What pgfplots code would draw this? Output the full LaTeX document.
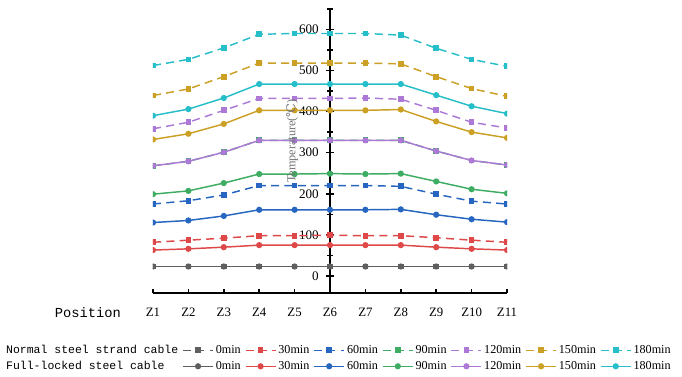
\documentclass[border=0pt]{standalone}
\usepackage{pgfplots}
\usepackage{pgfplotstable}
\pgfplotsset{compat=1.18}
\usepackage{fontspec}
\setmainfont{Liberation Serif}
\setmonofont{Liberation Mono}
\newfontfamily\symfont{DejaVu Serif}

\definecolor{c0}{RGB}{95,95,95}
\definecolor{c30}{RGB}{222,72,72}
\definecolor{c60}{RGB}{38,102,192}
\definecolor{c90}{RGB}{62,172,98}
\definecolor{c120}{RGB}{172,122,214}
\definecolor{c150}{RGB}{204,160,36}
\definecolor{c180}{RGB}{38,190,200}
\definecolor{labgray}{RGB}{115,115,115}

% Temperature (deg C) along the cable, positions Z1..Z11 stored as -5..5
% N* = normal steel strand cable, F* = full-locked steel cable
\pgfplotstableread{
pos N0 N30 N60 N90 N120 N150 N180 F0 F30 F60 F90 F120 F150 F180
-5 23 82 175 268 358 439 512 23 63 130 199 268 332 390
-4 23 87 183 279 374 455 527 23 66 135 207 279 346 406
-3 23 92 197 301 403 485 555 23 70 146 226 301 370 433
-2 23 98 220 330 432 518 588 23 75 161 248 330 403 467
-1 23 98 220 330 432 518 590 23 75 161 248 330 403 467
 0 23 99 220 330 432 518 590 23 75 161 249 330 403 467
 1 23 98 220 330 433 518 590 23 75 161 248 330 403 467
 2 23 98 218 330 430 516 586 23 75 162 249 330 405 467
 3 23 93 199 304 403 485 554 23 70 149 230 304 376 440
 4 23 87 182 281 374 456 527 23 66 138 211 281 350 413
 5 23 82 175 270 360 437 510 23 63 131 201 270 336 395
}\tempdata

\pgfplotsset{
  ns/.style={color=#1, line width=1.1pt, dash pattern=on 6pt off 4pt,
    mark=square*, mark size=1.6pt, mark options={solid}},
  fs/.style={color=#1, line width=1.1pt, solid,
    mark=*, mark size=1.75pt},
}

\begin{document}
\begin{tikzpicture}
\begin{axis}[
  scale only axis,
  width=265.5pt, height=213.75pt,
  xmin=-5, xmax=5, ymin=-41.5, ymax=652,
  axis x line=bottom, axis y line=center,
  axis line style={-, line width=1.5pt, black},
  hide obscured x ticks=false, hide obscured y ticks=false,
  xtick=\empty,
  extra x ticks={-5,...,5},
  extra x tick labels={Z1,Z2,Z3,Z4,Z5,Z6,Z7,Z8,Z9,Z10,Z11},
  extra x tick style={major tick length=3.2pt, tick align=inside},
  ytick={0,100,...,600},
  minor ytick={50,150,...,650},
  major tick length=6pt, minor tick length=4.5pt,
  tick style={black, line width=1.2pt},
  x tick label style={font=\fontsize{9.6}{10}\selectfont, yshift=-7.5pt},
  y tick label style={font=\fontsize{9.8}{10}\selectfont, xshift=-2pt},
  /pgf/number format/assume math mode=true,
  xlabel={\ttfamily Position},
  xlabel style={font=\fontsize{10.3}{11}\selectfont, at={(axis description cs:-0.184,-0.067)}, anchor=center},
  ylabel={Temperature({\symfont ℃})},
  ylabel style={font=\fontsize{9.2}{10}\selectfont, text=labgray, rotate=90,
    at={(axis description cs:0.393,0.533)}, anchor=center},
  clip marker paths=true,
  legend columns=8,
  legend image code/.code={
    \draw[mark repeat=2,mark phase=2,#1] plot coordinates {(0pt,0pt) (11.3pt,0pt) (22.6pt,0pt)};},
  legend style={draw=none, fill=none, inner sep=0pt,
    at={(axis description cs:-0.421,-0.172)}, anchor=north west,
    font=\fontsize{9.1}{10}\selectfont,
    nodes={anchor=west, inner xsep=1.5pt, inner ysep=1.5pt, text height=7pt, text depth=2pt},
    /tikz/every even column/.append style={column sep=1.5pt}},
]
\coordinate (ll) at (rel axis cs:0,0);

% normal steel strand cable (dashed), then full-locked cable (solid) on top
\addplot[ns=c0,   forget plot] table[x=pos,y=N0]   {\tempdata};
\addplot[ns=c30,  forget plot] table[x=pos,y=N30]  {\tempdata};
\addplot[ns=c60,  forget plot] table[x=pos,y=N60]  {\tempdata};
\addplot[ns=c90,  forget plot] table[x=pos,y=N90]  {\tempdata};
\addplot[ns=c120, forget plot] table[x=pos,y=N120] {\tempdata};
\addplot[ns=c150, forget plot] table[x=pos,y=N150] {\tempdata};
\addplot[ns=c180, forget plot] table[x=pos,y=N180] {\tempdata};
\addplot[fs=c0,   forget plot] table[x=pos,y=F0]   {\tempdata};
\addplot[fs=c30,  forget plot] table[x=pos,y=F30]  {\tempdata};
\addplot[fs=c60,  forget plot] table[x=pos,y=F60]  {\tempdata};
\addplot[fs=c90,  forget plot] table[x=pos,y=F90]  {\tempdata};
\addplot[fs=c120, forget plot] table[x=pos,y=F120] {\tempdata};
\addplot[fs=c150, forget plot] table[x=pos,y=F150] {\tempdata};
\addplot[fs=c180, forget plot] table[x=pos,y=F180] {\tempdata};

% two-row legend with a heading for each cable type
\addlegendimage{empty legend}\addlegendentry{\ttfamily\fontsize{8.6}{10}\selectfont Normal steel strand cable}
\addlegendimage{ns=c0}\addlegendentry{0min}
\addlegendimage{ns=c30}\addlegendentry{30min}
\addlegendimage{ns=c60}\addlegendentry{60min}
\addlegendimage{ns=c90}\addlegendentry{90min}
\addlegendimage{ns=c120}\addlegendentry{120min}
\addlegendimage{ns=c150}\addlegendentry{150min}
\addlegendimage{ns=c180}\addlegendentry{180min}
\addlegendimage{empty legend}\addlegendentry{\ttfamily\fontsize{8.6}{10}\selectfont Full-locked steel cable}
\addlegendimage{fs=c0}\addlegendentry{0min}
\addlegendimage{fs=c30}\addlegendentry{30min}
\addlegendimage{fs=c60}\addlegendentry{60min}
\addlegendimage{fs=c90}\addlegendentry{90min}
\addlegendimage{fs=c120}\addlegendentry{120min}
\addlegendimage{fs=c150}\addlegendentry{150min}
\addlegendimage{fs=c180}\addlegendentry{180min}
\end{axis}
\pgfresetboundingbox
\path (ll) ++(-114.75pt,-62.25pt) rectangle ++(511.5pt,282pt);
\end{tikzpicture}
\end{document}
